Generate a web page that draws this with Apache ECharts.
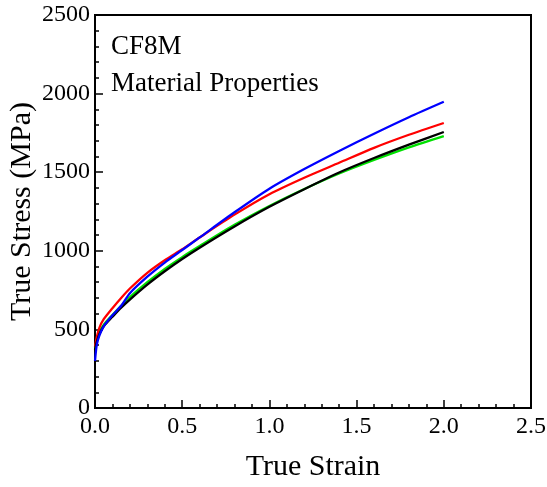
<!DOCTYPE html>
<html>
<head>
<meta charset="utf-8">
<script src="https://cdn.jsdelivr.net/npm/echarts@6/dist/echarts.min.js"></script>
<style>
  html, body { margin: 0; padding: 0; background: #fff; }
  #chart { width: 547px; height: 487px; }
</style>
</head>
<body>
<div id="chart"></div>
<script>
// True strain sample points shared by all four curves
const strain = [0, 0.01, 0.025, 0.05, 0.1, 0.15, 0.2, 0.3, 0.4, 0.5, 0.6, 0.8, 1.0, 1.2, 1.4, 1.6, 1.8, 2.0];

// True stress (MPa) for each curve
const stressBlue  = [300, 400, 460, 520, 590, 650, 730, 835, 925, 1005, 1085, 1245, 1395, 1520, 1635, 1745, 1850, 1948];
const stressRed   = [390, 450, 510, 565, 635, 700, 760, 860, 940, 1010, 1085, 1230, 1360, 1465, 1560, 1655, 1738, 1813];
const stressGreen = [380, 430, 480, 530, 592, 650, 705, 800, 885, 960, 1030, 1165, 1285, 1393, 1492, 1578, 1658, 1730];
const stressBlack = [370, 420, 470, 520, 580, 638, 690, 785, 870, 948, 1020, 1155, 1280, 1392, 1498, 1590, 1675, 1756];

const xTicks = { min: 0, max: 2.5, step: 0.5 };
const yTicks = { min: 0, max: 2500, step: 500 };

const titleLines = ['CF8M', 'Material Properties'];

const pair = (ys) => strain.map((x, i) => [x, ys[i]]);
const font = '"Liberation Serif", "Times New Roman", serif';

const chart = echarts.init(document.getElementById('chart'));

function curve(name, color, ys) {
  return {
    name, type: 'line', data: pair(ys),
    showSymbol: false, smooth: 0.25,
    lineStyle: { color, width: 2.3 },
    itemStyle: { color },
    animation: false
  };
}

chart.setOption({
  animation: false,
  backgroundColor: '#fff',
  grid: {
    left: 95, right: 16, top: 15, bottom: 79,
    containLabel: false, outerBoundsMode: 'none',
    show: true, borderColor: '#000', borderWidth: 2, backgroundColor: 'transparent'
  },
  xAxis: {
    type: 'value', min: xTicks.min, max: xTicks.max, interval: xTicks.step,
    name: 'True Strain', nameLocation: 'middle', nameGap: 44, nameMoveOverlap: false,
    nameTextStyle: { fontFamily: font, fontSize: 30, color: '#000' },
    axisLine: { lineStyle: { color: '#000', width: 2 } },
    axisTick: { inside: true, length: 8, lineStyle: { color: '#000', width: 1.5 } },
    minorTick: { show: true, splitNumber: 5, length: 4, lineStyle: { color: '#000', width: 1.5 } },
    axisLabel: { fontFamily: font, fontSize: 24, color: '#000', margin: 7,
                 formatter: (v) => v.toFixed(1) },
    splitLine: { show: false }
  },
  yAxis: {
    type: 'value', min: yTicks.min, max: yTicks.max, interval: yTicks.step,
    name: 'True Stress (MPa)', nameLocation: 'middle', nameGap: 58, nameMoveOverlap: false,
    nameTextStyle: { fontFamily: font, fontSize: 30, color: '#000' },
    axisLine: { lineStyle: { color: '#000', width: 2 } },
    axisTick: { inside: true, length: 8, lineStyle: { color: '#000', width: 1.5 } },
    minorTick: { show: true, splitNumber: 5, length: 4, lineStyle: { color: '#000', width: 1.5 } },
    axisLabel: { fontFamily: font, fontSize: 24, color: '#000', margin: 5,
                 formatter: (v) => String(v) },
    splitLine: { show: false }
  },
  graphic: titleLines.map((t, i) => ({
    type: 'text', left: 111, top: 33 + i * 37, silent: true,
    style: { text: t, font: '27px ' + font, fill: '#000' }
  })),
  series: [
    curve('green', '#00e000', stressGreen),
    curve('red', '#ff0000', stressRed),
    curve('black', '#000000', stressBlack),
    curve('blue', '#0000ff', stressBlue)
  ]
});
</script>
</body>
</html>
